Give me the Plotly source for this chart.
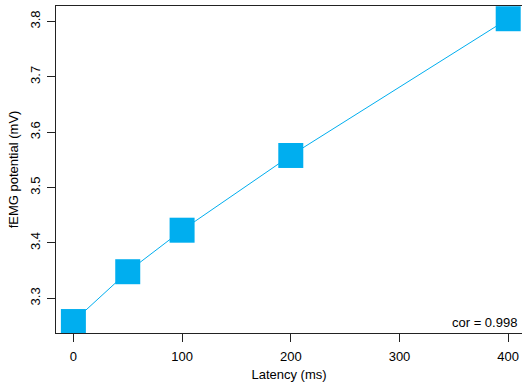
import plotly.graph_objects as go

latency = [0, 50, 100, 200, 400]
femg = [3.258, 3.348, 3.423, 3.558, 3.805]
x_ticks = [0, 100, 200, 300, 400]
y_ticks = [3.3, 3.4, 3.5, 3.6, 3.7, 3.8]
cor_label = "cor = 0.998"

color = "#00AEEF"
font = dict(family="Liberation Sans, Arial, sans-serif", size=13, color="black")

fig = go.Figure()
fig.add_trace(go.Scatter(
    x=latency, y=femg, mode="lines+markers",
    line=dict(color=color, width=1),
    marker=dict(symbol="square", size=25, color=color, line=dict(width=0)),
    cliponaxis=True, showlegend=False, hoverinfo="skip",
))

axis_common = dict(
    showline=True, linecolor="#222222", linewidth=1,
    ticks="outside", ticklen=8, tickcolor="#222222", tickwidth=1,
    showgrid=False, zeroline=False, tickfont=font,
)

fig.update_xaxes(
    range=[-16, 412.7], tickvals=x_ticks, ticktext=[str(v) for v in x_ticks],
    ticklabelstandoff=3, mirror=True,
    title=dict(text="Latency (ms)", font=font, standoff=7),
    **axis_common,
)
fig.update_yaxes(
    range=[3.2373, 3.828], tickvals=y_ticks, ticktext=[f"{v:.1f}" for v in y_ticks],
    tickangle=-90, ticklabelstandoff=2, mirror=False,
    title=dict(text="fEMG potential (mV)", font=font, standoff=6),
    **axis_common,
)

fig.add_annotation(
    text=cor_label, xref="paper", yref="paper", x=0.9936, y=0.0336,
    xanchor="right", yanchor="middle", showarrow=False, font=font,
)

fig.update_layout(
    width=522, height=389,
    margin=dict(l=56, r=0, t=6, b=56),
    plot_bgcolor="white", paper_bgcolor="white",
    font=font,
)

fig.write_html(
    "out.html",
    config={"displayModeBar": False},
    post_script="document.body.style.margin='0';document.body.style.overflow='hidden';",
)
